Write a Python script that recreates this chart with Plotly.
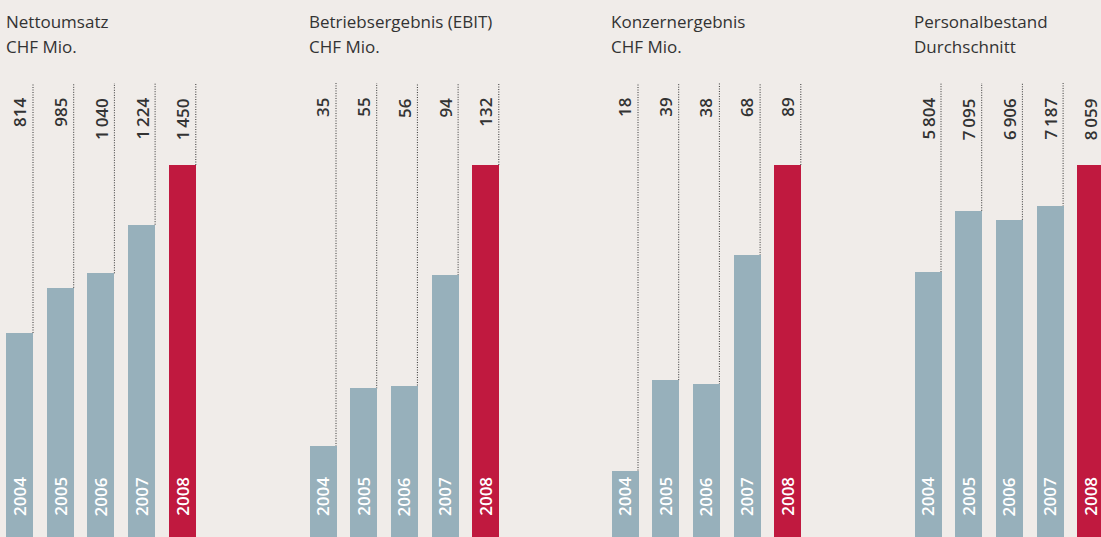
import plotly.graph_objects as go

# ---- data ----
years = ["2004", "2005", "2006", "2007", "2008"]
umsatz = [814, 985, 1040, 1224, 1450]
ebit = [35, 55, 56, 94, 132]
konzern = [18, 39, 38, 68, 89]
personal = [5804, 7095, 6906, 7187, 8059]
titles = [("Nettoumsatz", "CHF Mio."),
          ("Betriebsergebnis (EBIT)", "CHF Mio."),
          ("Konzernergebnis", "CHF Mio."),
          ("Personalbestand", "Durchschnitt")]
series = [umsatz, ebit, konzern, personal]

# ---- layout constants (pixels) ----
W, H = 1101, 537
BASE = 548        # pixel row of value zero (below the visible area)
TOP = 165         # pixel row of each panel's maximum
LABEL_TOP = 97    # top of rotated value labels
LINE_TOP = 83     # top of dotted guide lines
YEAR_BOTTOM = 517 # bottom of year labels
PITCH = 40.7
BARW = 27
first_centers = [19.5, 322.5, 624.5, 927.5]

BG = "#f0ece9"
BAR = "#97b0bb"
RED = "#c0193f"
TXT = "#333333"
FONT = "Open Sans"

colors = [BAR] * 4 + [RED]

fig = go.Figure()
annotations = []
shapes = []
layout_axes = {}

for i, (vals, c0) in enumerate(zip(series, first_centers)):
    sfx = "" if i == 0 else str(i + 1)
    vmax = max(vals)
    unit = (BASE - TOP) / vmax
    d0 = max(0.0, c0 - 21)
    d1 = min(float(W), c0 + 4 * PITCH + 21)
    xr = [(d0 - c0) / PITCH, (d1 - c0) / PITCH]
    yr = [(BASE - H) / unit, BASE / unit]

    fig.add_trace(go.Bar(
        x=list(range(len(years))), y=vals, marker=dict(color=colors, line=dict(width=0)),
        width=BARW / PITCH, xaxis="x" + sfx, yaxis="y" + sfx,
        customdata=years, hovertemplate="%{customdata}: %{y}<extra></extra>",
        showlegend=False,
    ))

    layout_axes["xaxis" + sfx] = dict(
        domain=[d0 / W, d1 / W], range=xr, visible=False, type="linear",
        anchor="y" + sfx, fixedrange=True,
    )
    layout_axes["yaxis" + sfx] = dict(
        domain=[0, 1], range=yr, visible=False, anchor="x" + sfx, fixedrange=True,
    )

    for k, (yr_lbl, v) in enumerate(zip(years, vals)):
        txt = f"{v:,}".replace(",", "\u2009")
        annotations.append(dict(
            x=k, y=(BASE - LABEL_TOP) / unit, xref="x" + sfx, yref="y" + sfx,
            text=txt, textangle=-90, showarrow=False, xanchor="center", yanchor="top",
            font=dict(family=FONT, size=17, color=TXT, weight=600), borderpad=0,
        ))
        annotations.append(dict(
            x=k, y=(BASE - YEAR_BOTTOM) / unit, xref="x" + sfx, yref="y" + sfx,
            text=yr_lbl, textangle=-90, showarrow=False, xanchor="center", yanchor="bottom",
            font=dict(family=FONT, size=17, color="white", weight=600), borderpad=0,
        ))
        shapes.append(dict(
            type="line", xref="x" + sfx, yref="y" + sfx,
            x0=k + BARW / 2 / PITCH, x1=k + BARW / 2 / PITCH,
            y0=v, y1=(BASE - LINE_TOP) / unit,
            line=dict(color="#333333", width=1, dash="1px,1.5px"), layer="below",
        ))

    for j, line in enumerate(titles[i]):
        annotations.append(dict(
            x=(c0 - BARW / 2) / W, y=1, xref="paper", yref="paper",
            text=line, showarrow=False, xanchor="left", yanchor="top", align="left",
            yshift=-9 - 25 * j, xshift=-1, borderpad=0,
            font=dict(family=FONT, size=17, color=TXT),
        ))

fig.update_layout(
    width=W, height=H, margin=dict(l=0, r=0, t=0, b=0),
    paper_bgcolor=BG, plot_bgcolor="rgba(0,0,0,0)",
    annotations=annotations, shapes=shapes, bargap=0,
    **layout_axes,
)

fig.write_html("out.html", config={"displayModeBar": False},
               post_script="document.body.style.margin='0';document.body.style.overflow='hidden';")
